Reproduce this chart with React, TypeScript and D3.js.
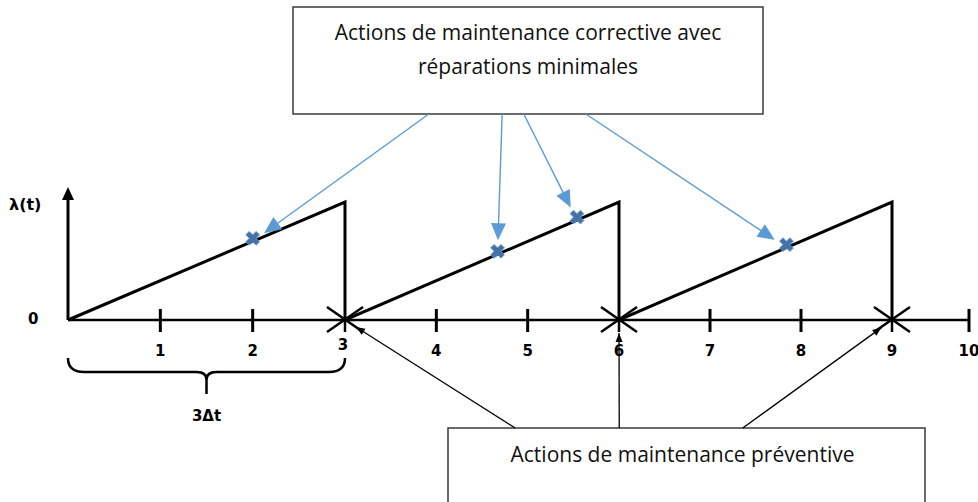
import React from "react";
import * as d3 from "d3";

// ---- data ----
const tickValues = [1, 2, 3, 4, 5, 6, 7, 8, 9, 10];
const tickLabels = ["1", "2", "3", "4", "5", "6", "7", "8", "9", "10"];
const toothStarts = [0, 3, 6];
const toothEnds = [3, 6, 9];
const toothPeak = 1;
const correctiveTimes = [2.0, 4.67, 5.54, 7.84];
const preventiveTimes = [3, 6, 9];
const topText = ["Actions de maintenance corrective avec", "réparations minimales"];
const bottomText = "Actions de maintenance préventive";
const braceLabel = "3Δt";
const yLabel = "λ(t)";

const W = 978;
const H = 502;

export default function App() {
  const x = d3.scaleLinear().domain([0, 3, 6, 9, 10]).range([68, 345, 619, 892, 969]);
  const y = d3.scaleLinear().domain([0, toothPeak]).range([320, 202]);
  const y0 = y(0);

  const lambdaAt = (t: number) => {
    let k = 0;
    for (let i = 0; i < toothStarts.length; i++) if (t >= toothStarts[i]) k = i;
    return ((t - toothStarts[k]) / (toothEnds[k] - toothStarts[k])) * toothPeak;
  };

  const line = d3.line<[number, number]>().x((d) => x(d[0])).y((d) => y(d[1]));
  const sawPts: [number, number][] = [];
  toothStarts.forEach((s, i) => {
    sawPts.push([s, 0]);
    sawPts.push([toothEnds[i], toothPeak]);
    sawPts.push([toothEnds[i], 0]);
  });

  // boxes
  const topBox = { x: 293, y: 7, w: 470, h: 107 };
  const botBox = { x: 448, y: 428, w: 477, h: 90 };
  const topOriginsFrac = [0.289, 0.445, 0.491, 0.623];
  const botOriginsFrac = [0.141, 0.359, 0.618];

  const blue = "#5B9BD5";
  const markerFill = "#4472A8";
  const cross = d3.symbol().type(d3.symbolCross).size(120)();

  const arrowHead = (tx: number, ty: number, ox: number, oy: number, len: number, wid: number) => {
    const dx = tx - ox, dy = ty - oy;
    const L = Math.hypot(dx, dy);
    const ux = dx / L, uy = dy / L;
    const bx = tx - ux * len, by = ty - uy * len;
    const px = -uy * wid / 2, py = ux * wid / 2;
    return `M${tx},${ty}L${bx + px},${by + py}L${bx - px},${by - py}Z`;
  };

  const blueArrows = correctiveTimes.map((t, i) => {
    const mx = x(t), my = y(lambdaAt(t));
    const ox = topBox.x + topOriginsFrac[i] * topBox.w;
    const oy = topBox.y + topBox.h;
    const dx = ox - mx, dy = oy - my;
    const L = Math.hypot(dx, dy);
    const gap = 14;
    const tx = mx + (dx / L) * gap, ty = my + (dy / L) * gap;
    return { ox, oy, tx, ty };
  });

  const blackArrows = preventiveTimes.map((t, i) => {
    const mx = x(t), my = y0;
    const ox = botBox.x + botOriginsFrac[i] * botBox.w;
    const oy = botBox.y;
    const dx = ox - mx, dy = oy - my;
    const L = Math.hypot(dx, dy);
    const gap = 13;
    return { ox, oy, tx: mx + (dx / L) * gap, ty: my + (dy / L) * gap };
  });

  // brace
  const bl = x(0), br = x(3), bm = (bl + br) / 2;
  const byTop = 358, byMid = 372, byTip = 394;
  const brace = `M${bl},${byTop} Q${bl},${byMid} ${bl + 16},${byMid} L${bm - 10},${byMid} Q${bm},${byMid} ${bm},${byMid + 8} L${bm},${byTip} M${bm},${byMid + 8} Q${bm},${byMid} ${bm + 10},${byMid} L${br - 16},${byMid} Q${br},${byMid} ${br},${byTop}`;

  const boldFont = "DejaVu Sans, Verdana, sans-serif";
  const textFont = "Open Sans, sans-serif";

  return (
    <svg width={W} height={H} style={{ position: "absolute", left: 0, top: 0, background: "#fff" }}>
      {/* top box */}
      <rect x={topBox.x} y={topBox.y} width={topBox.w} height={topBox.h} fill="#fff" stroke="#3a3a3a" strokeWidth={1.5} />
      {topText.map((s, i) => (
        <text key={i} x={topBox.x + topBox.w / 2} y={40 + i * 34} textAnchor="middle" fontFamily={textFont} fontSize={21} fill="#111">
          {s}
        </text>
      ))}
      {/* bottom box */}
      <rect x={botBox.x} y={botBox.y} width={botBox.w} height={botBox.h} fill="#fff" stroke="#3a3a3a" strokeWidth={1.5} />
      <text x={botBox.x + botBox.w / 2 - 4} y={462} textAnchor="middle" fontFamily={textFont} fontSize={21} fill="#111">
        {bottomText}
      </text>

      {/* y axis */}
      <line x1={x(0)} y1={y0} x2={x(0)} y2={196} stroke="#000" strokeWidth={3} />
      <path d={`M${x(0)},187 L${x(0) - 6},200 L${x(0) + 6},200 Z`} fill="#000" />
      <text x={9} y={210} fontFamily={boldFont} fontWeight="bold" fontSize={16} fill="#000">
        {yLabel}
      </text>
      <text x={28} y={324} fontFamily={boldFont} fontWeight="bold" fontSize={15} fill="#000">
        0
      </text>

      {/* x axis */}
      <line x1={x(0)} y1={y0} x2={x(10)} y2={y0} stroke="#000" strokeWidth={2.5} />
      {tickValues.map((v, i) => (
        <g key={v}>
          {!preventiveTimes.includes(v) && (
            <line x1={x(v)} x2={x(v)} y1={y0 - 11} y2={y0 + 12} stroke="#000" strokeWidth={3} />
          )}
          <text x={x(v) - (v === 3 ? 2 : 0)} y={v === 3 ? 350 : 356} textAnchor="middle" fontFamily={boldFont} fontWeight="bold" fontSize={15} fill="#000">
            {tickLabels[i]}
          </text>
        </g>
      ))}

      {/* sawtooth */}
      <path d={line(sawPts) || ""} fill="none" stroke="#000" strokeWidth={3} strokeLinejoin="miter" />

      {/* preventive crosses */}
      {preventiveTimes.map((t) => (
        <g key={t} stroke="#000" strokeWidth={2.5}>
          <line x1={x(t) - 18} y1={y0 - 13} x2={x(t) + 18} y2={y0 + 12} />
          <line x1={x(t) - 18} y1={y0 + 12} x2={x(t) + 18} y2={y0 - 13} />
          <line x1={x(t)} y1={y0} x2={x(t)} y2={y0 + 12} />
        </g>
      ))}

      {/* blue arrows */}
      {blueArrows.map((a, i) => {
        const L = Math.hypot(a.tx - a.ox, a.ty - a.oy);
        return (
          <g key={i}>
            <line x1={a.ox} y1={a.oy} x2={a.tx - ((a.tx - a.ox) / L) * 10} y2={a.ty - ((a.ty - a.oy) / L) * 10} stroke={blue} strokeWidth={1.4} />
            <path d={arrowHead(a.tx, a.ty, a.ox, a.oy, 17, 15)} fill={blue} />
          </g>
        );
      })}

      {/* corrective markers */}
      {correctiveTimes.map((t, i) => (
        <path key={i} d={cross || ""} transform={`translate(${x(t)},${y(lambdaAt(t)) - 3}) rotate(45)`} fill={markerFill} stroke="#6f9bd0" strokeWidth={0.8} />
      ))}

      {/* black arrows */}
      {blackArrows.map((a, i) => (
        <g key={i}>
          <line x1={a.ox} y1={a.oy} x2={a.tx} y2={a.ty} stroke="#000" strokeWidth={1.3} />
          <path d={arrowHead(a.tx, a.ty, a.ox, a.oy, 9, 7)} fill="#000" />
        </g>
      ))}

      {/* brace */}
      <path d={brace} fill="none" stroke="#000" strokeWidth={2.5} />
      <text x={bm} y={421} textAnchor="middle" fontFamily={boldFont} fontWeight="bold" fontSize={15} fill="#000">
        {braceLabel}
      </text>
    </svg>
  );
}
